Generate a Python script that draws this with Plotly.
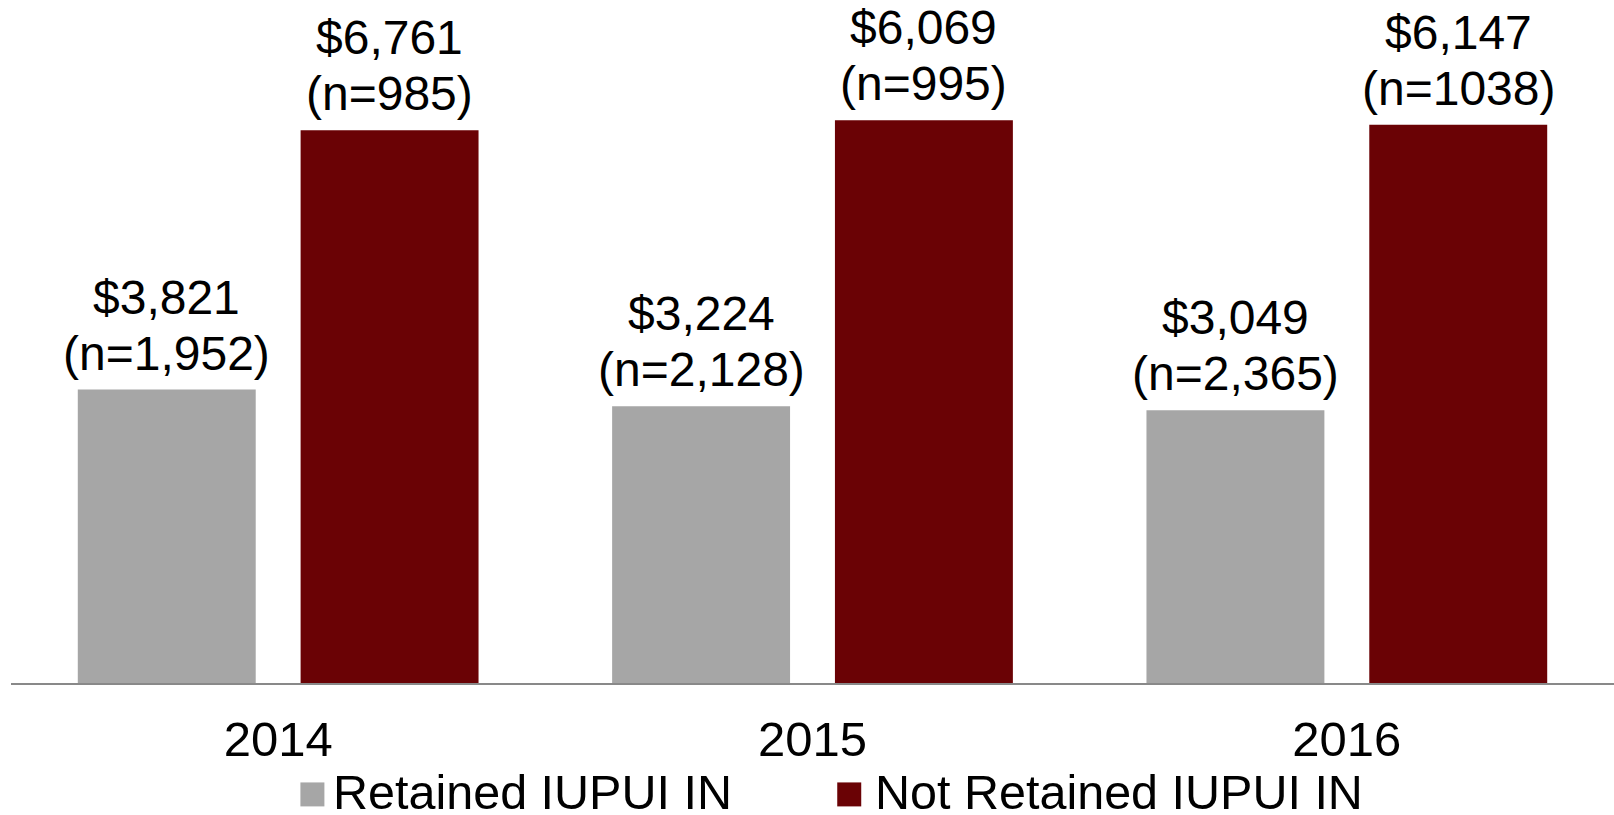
import plotly.graph_objects as go

# ---------------- data ----------------
years = ["2014", "2015", "2016"]
series_names = ["Retained IUPUI IN", "Not Retained IUPUI IN"]
retained_cost = [3821, 3224, 3049]
retained_n = ["1,952", "2,128", "2,365"]
not_retained_cost = [6761, 6069, 6147]
not_retained_n = ["985", "995", "1038"]
# bar lengths as drawn in the source chart (they do not follow the printed values)
retained_bar = [3540, 3340, 3290]
not_retained_bar = [6670, 6790, 6735]
colors = ["#A6A6A6", "#6A0205"]

# ---------------- layout constants ----------------
W, H = 1614, 815
ML, MR, MT, MB = 10.5, 0, 20, 131.5
PW, PH = W - ML - MR, H - MT - MB
BAR_W = 0.333
OFFSETS = [-0.375, 0.042]
FONT = "Liberation Sans, Arial, sans-serif"

fig = go.Figure()
series = [
    (series_names[0], retained_bar, retained_cost, retained_n),
    (series_names[1], not_retained_bar, not_retained_cost, not_retained_n),
]
annotations = []
for k, (name, bars, costs, ns) in enumerate(series):
    fig.add_trace(go.Bar(
        name=name, x=years, y=bars, width=BAR_W, offset=OFFSETS[k],
        marker=dict(color=colors[k], line=dict(width=0)),
        showlegend=False, hoverinfo="skip",
    ))
    for i, (b, c, n) in enumerate(zip(bars, costs, ns)):
        xc = i + OFFSETS[k] + BAR_W / 2
        annotations.append(dict(
            x=xc, y=b, xref="x", yref="y", text=f"(n={n})", showarrow=False,
            xanchor="center", yanchor="bottom", yshift=8,
            font=dict(family=FONT, size=48, color="black"),
        ))
        annotations.append(dict(
            x=xc, y=b, xref="x", yref="y", text=f"${c:,}", showarrow=False,
            xanchor="center", yanchor="bottom", yshift=64,
            font=dict(family=FONT, size=48, color="black"),
        ))

# manual legend (large square swatches)
def px_x(px):
    return (px - ML) / PW

def px_y(py):
    return (H - MB - py) / PH

legend_items = [(300, 324, 331), (837, 861, 873)]
shapes = []
for k, (x0, x1, xt) in enumerate(legend_items):
    shapes.append(dict(
        type="rect", xref="paper", yref="paper",
        x0=px_x(x0), x1=px_x(x1), y0=px_y(807), y1=px_y(783),
        fillcolor=colors[k], line=dict(width=0),
    ))
    annotations.append(dict(
        x=px_x(xt), y=px_y(793), xref="paper", yref="paper",
        text=series_names[k], showarrow=False, xanchor="left", yanchor="middle",
        font=dict(family=FONT, size=48.5, color="black"),
    ))

fig.update_layout(
    width=W, height=H,
    margin=dict(l=ML, r=MR, t=MT, b=MB, pad=0),
    paper_bgcolor="white", plot_bgcolor="white",
    barmode="overlay",
    showlegend=False,
    font=dict(family=FONT, color="black"),
    xaxis=dict(
        type="category", showline=True, linecolor="#898989", linewidth=2,
        ticks="", showgrid=False, zeroline=False,
        tickfont=dict(family=FONT, size=49, color="black"),
        ticklabelstandoff=12,
    ),
    yaxis=dict(range=[0, 8000], visible=False, showgrid=False, zeroline=False),
    annotations=annotations,
    shapes=shapes,
)

fig.write_html("out.html", config={"displayModeBar": False},
               post_script="document.body.style.margin='0';")
